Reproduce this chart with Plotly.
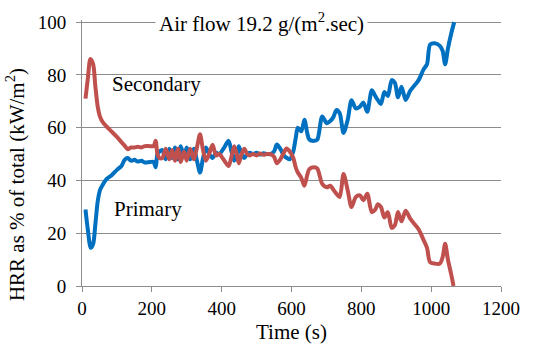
import plotly.graph_objects as go

# Time (s) and HRR share (%) for the primary (blue) and secondary (red) zones
time_p = [10, 17, 25, 32, 38, 45, 52, 60, 70, 85, 100, 113, 122, 131, 140, 150, 160, 170, 180, 195, 205, 211, 216, 222,
          230, 240, 250, 258, 266, 275, 283, 292, 300, 310, 320, 330, 338, 346, 355, 364, 374, 384, 393, 405, 420, 428,
          436, 443, 449, 457, 465, 473, 480, 490, 500, 510, 520, 530, 540, 550, 558, 568, 578, 586, 595, 605, 612, 618,
          628, 637, 645, 651, 665, 674, 688, 701, 711, 720, 729, 738, 749, 761, 772, 784, 796, 806, 817, 830, 840, 847,
          856, 866, 876, 887, 896, 905, 915, 927, 940, 952, 964, 978, 988, 997, 1010, 1025, 1033, 1040, 1048, 1058, 1066]
primary = [29, 21, 14.5, 16, 23, 32, 36.5, 38.5, 40.5, 42, 44, 45.5, 47.8, 48.5, 47.5, 47.8, 47.2, 47.5, 46.8, 47, 47, 45, 50, 51,
           51.5, 48, 52, 48.5, 52.5, 48, 53, 49, 52.5, 48, 52, 47, 43, 48, 52.5, 50, 48.5, 50.5, 50, 52, 55, 51,
           47.5, 50, 53, 50, 48.5, 50, 50.5, 50, 50.5, 49.8, 50.3, 50, 50, 51, 53.6, 52, 49.5, 48.6, 48, 51, 56, 60,
           58.6, 63, 58, 55.5, 55, 55.5, 64.2, 61.7, 62.5, 64, 66.7, 65.5, 58, 63, 70.4, 67.3, 68, 69.5, 66, 74.2, 72, 70.5,
           69, 73.5, 72, 78, 77, 71.5, 75.5, 70.5, 74, 76, 78, 82, 84, 91.5, 92, 91, 89, 84, 90, 96, 100]

time_s = [10, 17, 24, 32, 38, 45, 52, 60, 70, 85, 100, 113, 122, 131, 140, 150, 160, 170, 180, 195, 205, 211, 216, 222,
          230, 240, 250, 258, 266, 275, 283, 292, 300, 310, 320, 330, 338, 346, 355, 364, 374, 384, 393, 405, 420, 428,
          436, 443, 449, 457, 465, 473, 480, 490, 500, 510, 520, 530, 540, 550, 558, 568, 578, 586, 595, 605, 612, 618,
          628, 637, 645, 651, 665, 674, 688, 701, 711, 720, 729, 738, 749, 761, 772, 784, 796, 806, 817, 830, 840, 847,
          856, 866, 876, 887, 896, 905, 915, 927, 940, 952, 964, 978, 988, 997, 1010, 1025, 1033, 1040, 1048, 1058, 1064]
secondary = [71, 79, 86, 84, 76, 68, 64, 62, 60.5, 58.5, 56.5, 54.5, 53.2, 51.8, 52.5, 52.5, 52.8, 52.5, 53, 53, 53, 55, 50, 48.5,
             48.5, 52, 48, 51.5, 47.5, 52, 47, 51, 47.5, 52, 48, 53, 57.5, 52, 47.5, 50, 53.5, 49.5, 50, 48, 45.5, 49,
             53, 50, 46.5, 50, 52, 50, 49.5, 50, 49.5, 50.2, 49.7, 50, 50, 49, 46.5, 48, 50.5, 52.1, 51, 48.6, 45, 43,
             41, 38, 42, 44.3, 45, 44.5, 38.7, 37.4, 38, 36.5, 34.9, 33.7, 42.4, 36.2, 29.9, 33.7, 34.3, 32.5, 35, 28, 29, 31,
             30, 26, 28, 22, 23, 28, 24.5, 28.5, 25.5, 23.5, 21.5, 17.5, 14.5, 9, 8.5, 8.5, 11, 16, 10, 4, 0]

x_ticks = [0, 200, 400, 600, 800, 1000, 1200]
y_ticks = [0, 20, 40, 60, 80, 100]

FONT = "Liberation Serif"
GRID = "#8c8c8c"

fig = go.Figure()
fig.add_trace(go.Scatter(x=time_p, y=primary, mode="lines", name="Primary", cliponaxis=False,
                         line=dict(color="#0070C0", width=4, shape="spline", smoothing=0.8)))
fig.add_trace(go.Scatter(x=time_s, y=secondary, mode="lines", name="Secondary", cliponaxis=False,
                         line=dict(color="#C0504D", width=4, shape="spline", smoothing=0.8)))

fig.update_layout(
    width=538, height=352,
    margin=dict(l=82, r=37, t=18, b=66),
    paper_bgcolor="white", plot_bgcolor="white",
    showlegend=False,
    font=dict(family=FONT, size=19, color="black"),
)
fig.update_xaxes(range=[0, 1200], tickvals=x_ticks, showgrid=False,
                 showline=True, linecolor=GRID, linewidth=1,
                 ticks="outside", ticklen=5, tickcolor=GRID, zeroline=False,
                 tickfont=dict(family=FONT, size=19))
# range slightly above 100 so the 100 gridline is drawn as an ordinary gridline
fig.update_yaxes(range=[0, 100.8], tickvals=y_ticks, showgrid=True, gridcolor=GRID, gridwidth=1,
                 showline=True, linecolor=GRID, linewidth=1,
                 ticks="outside", ticklen=5, tickcolor=GRID, zeroline=False,
                 ticklabelstandoff=6,
                 tickfont=dict(family=FONT, size=19))

fig.add_annotation(x=515, y=100, xref="x", yref="y", text="Air flow 19.2 g/(m<sup>2</sup>.sec)",
                   showarrow=False, bgcolor="white", borderpad=3,
                   font=dict(family=FONT, size=21), yanchor="middle")
fig.add_annotation(x=80, y=76.5, xref="x", yref="y", text="Secondary", showarrow=False,
                   xanchor="left", yanchor="middle", font=dict(family=FONT, size=21))
fig.add_annotation(x=86, y=29, xref="x", yref="y", text="Primary", showarrow=False,
                   xanchor="left", yanchor="middle", font=dict(family=FONT, size=21))
fig.add_annotation(x=0.5, y=-0.1, xref="paper", yref="paper", yshift=-19, text="Time (s)", showarrow=False,
                   xanchor="center", yanchor="middle", font=dict(family=FONT, size=21))
fig.add_annotation(x=-0.16, y=0.383, xref="paper", yref="paper", text="HRR as % of total (kW/m<sup>2</sup>)",
                   showarrow=False, textangle=-90, xanchor="center", yanchor="middle",
                   font=dict(family=FONT, size=21))

fig.write_html("out.html")
